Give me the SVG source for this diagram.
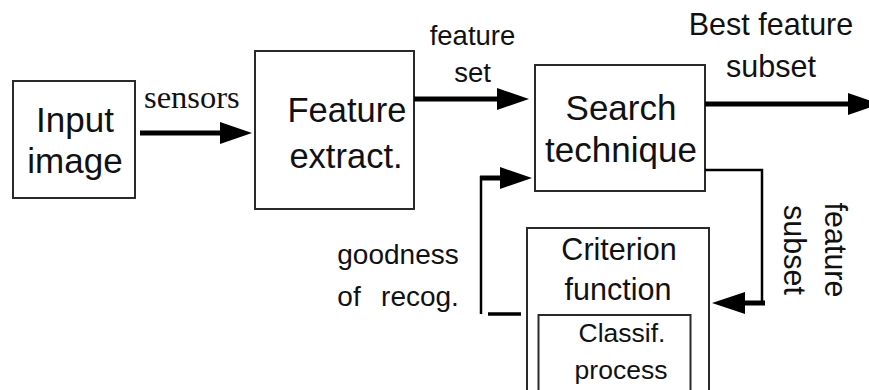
<svg xmlns="http://www.w3.org/2000/svg" width="869" height="390" viewBox="0 0 869 390">
<style>
.box{fill:#fff;stroke:#2a2a2a;stroke-width:2}
.t{font-family:"Liberation Sans",Arial,sans-serif;fill:#111;text-anchor:middle}
.s{font-family:"Liberation Serif","Times New Roman",serif;fill:#111}
.ln{stroke:#000;fill:none;stroke-linecap:butt}
.ah{fill:#000}
</style>
<rect width="869" height="390" fill="#fff"/>
<g id="input">
<rect class="box" x="13" y="81" width="122" height="117"/>
<text class="t" x="75" y="132" font-size="35">Input</text>
<text class="t" x="75" y="173" font-size="35">image</text>
</g>
<g id="extract">
<rect class="box" x="255" y="51" width="159" height="158"/>
<text class="t" x="347" y="122" font-size="34.5">Feature</text>
<text class="t" x="346" y="168" font-size="34.5">extract.</text>
</g>
<g id="search">
<rect class="box" x="535" y="65" width="170" height="126"/>
<text class="t" x="621" y="120" font-size="35">Search</text>
<text class="t" x="621" y="162" font-size="35">technique</text>
</g>
<g id="criterion">
<rect class="box" x="527" y="228" width="182" height="180"/>
<text class="t" x="619" y="260" font-size="30.5">Criterion</text>
<text class="t" x="618" y="300" font-size="30.5">function</text>
</g>
<g id="classif">
<rect class="box" x="538.5" y="315" width="152" height="90"/>
<text class="t" x="622" y="342" font-size="26.5">Classif.</text>
<text class="t" x="621" y="379" font-size="26.5">process</text>
</g>
<g id="connectors">
<line class="ln" x1="140" y1="133" x2="222" y2="133" stroke-width="5"/>
<polygon class="ah" points="252,133 220,122 220,144"/>
<line class="ln" x1="414" y1="99" x2="499" y2="99" stroke-width="5"/>
<polygon class="ah" points="529,99 497,88 497,110"/>
<line class="ln" x1="705" y1="104" x2="850" y2="104" stroke-width="5"/>
<polygon class="ah" points="880,104 848,93 848,115"/>
<polyline class="ln" points="705,170 762,170 762,303" stroke-width="2.5"/>
<line class="ln" x1="765" y1="303" x2="743" y2="303" stroke-width="5"/>
<polygon class="ah" points="712,303 745,292 745,314"/>
<line class="ln" x1="488" y1="314" x2="521" y2="314" stroke-width="3.5"/>
<line class="ln" x1="481" y1="314" x2="481" y2="176" stroke-width="2.5"/>
<line class="ln" x1="480" y1="178" x2="502" y2="178" stroke-width="5"/>
<polygon class="ah" points="532,178 500,167 500,189"/>
</g>
<g id="labels">
<text class="s" x="144" y="108" font-size="32.5">sensors</text>
<text class="t" x="472.5" y="45" font-size="27.5">feature</text>
<text class="t" x="472.5" y="82" font-size="27.5">set</text>
<text class="t" x="771" y="35" font-size="30.5">Best feature</text>
<text class="t" x="771" y="77" font-size="30.5">subset</text>
<text class="t" transform="translate(825,250) rotate(90)" font-size="30.5">feature</text>
<text class="t" transform="translate(784,250) rotate(90)" font-size="30.5">subset</text>
<text class="t" x="398" y="264" font-size="28">goodness</text>
<text class="t" x="349" y="306" font-size="28">of</text>
<text class="t" x="420" y="306" font-size="28">recog.</text>
</g>
</svg>
